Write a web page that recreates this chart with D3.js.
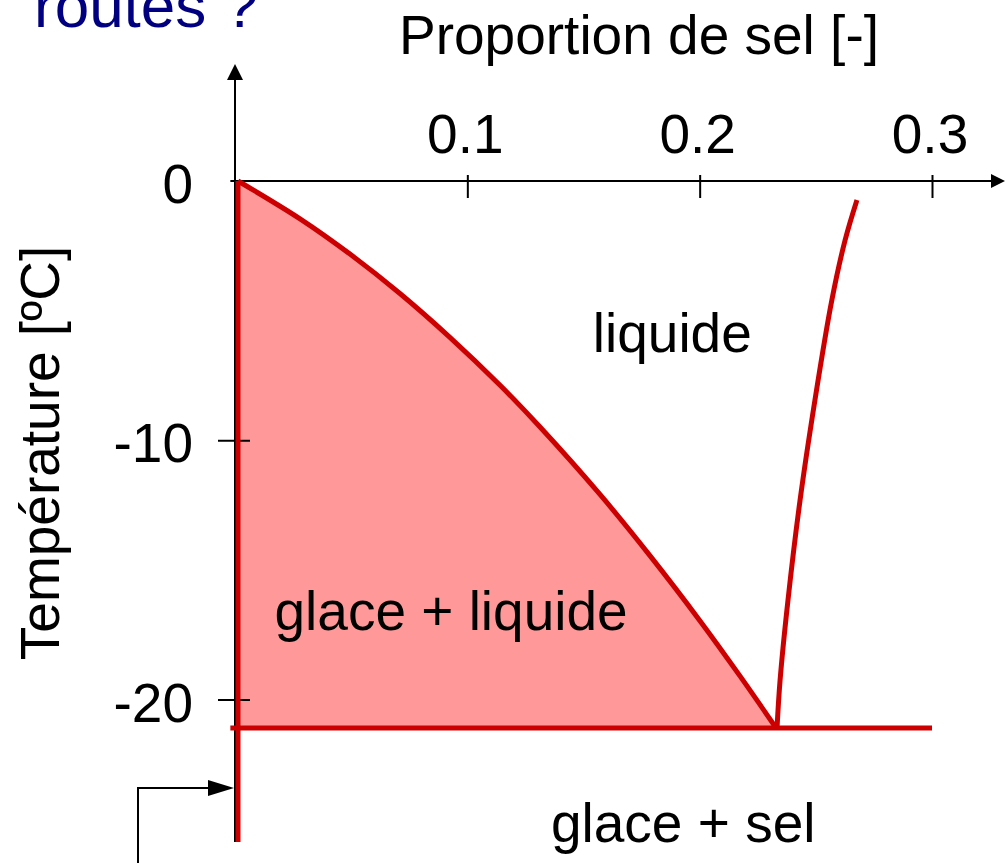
<!DOCTYPE html>
<html>
<head>
<meta charset="utf-8">
<script src="https://cdn.jsdelivr.net/npm/d3@7"></script>
<style>
  html, body { margin: 0; padding: 0; background: #fff; }
  svg { display: block; }
  text { font-family: "Liberation Sans", Arial, Helvetica, sans-serif; }
</style>
</head>
<body>
<svg id="chart" width="1005" height="863"></svg>
<script>
// Phase diagram of salt water (NaCl mass fraction vs temperature)

// Ice liquidus: freezing temperature of brine by salt fraction
const liquidusSalt = [0, 0.0267, 0.0482, 0.0697, 0.0912, 0.1128, 0.13, 0.1558, 0.1773, 0.1988, 0.2161, 0.2316];
const liquidusTemp = [0, -1.46, -2.82, -4.34, -6.03, -7.88, -9.49, -12.09, -14.45, -16.96, -19.10, -21.1];

// Salt solubility curve, from the eutectic upward
const solubSalt = [0.2333, 0.2346, 0.238, 0.2432, 0.2496, 0.2569, 0.2626, 0.2677];
const solubTemp = [-21.1, -19.27, -16.18, -12.32, -8.46, -4.59, -2.28, -0.73];

// Eutectic temperature and salt range of the horizontal line
const eutecticTemp = -21.1;
const eutecticSalt = [-0.002, 0.3];

// Pure water edge (salt fraction 0), temperature span
const pureWaterTemp = [0, -25.5];

// Axis ticks
const xTicks = [0.1, 0.2, 0.3];
const xTickLabels = ["0.1", "0.2", "0.3"];
const yTicks = [0, -10, -20];
const yTickLabels = ["0", "-10", "-20"];

// Region labels
const regionNames = ["liquide", "glace + liquide", "glace + sel"];
const regionSalt = [0.154, 0.017, 0.136];
const regionTemp = [-6.6, -17.3, -25.5];

const svg = d3.select("#chart");
const x = d3.scaleLinear().domain([0, 0.3]).range([235, 932]);
const y = d3.scaleLinear().domain([0, -20]).range([181, 699.5]);

const RED = "#cc0000";
const PINK = "#ff9999";
const FONT = 55;
const EDGE = 3; // half the boundary stroke, keeps the red edge inside the axis

const liquidus = liquidusSalt.map((s, i) => ({ s, t: liquidusTemp[i] }));
const solub = solubSalt.map((s, i) => ({ s, t: solubTemp[i] }));

const curve = d3.curveCatmullRom.alpha(0.5);

// Ice + liquid region
svg.append("path")
  .datum(liquidus)
  .attr("d", d3.area()
    .x(d => x(d.s) + EDGE)
    .y0(y(eutecticTemp))
    .y1(d => y(d.t))
    .curve(curve))
  .attr("fill", PINK);

// Axes (black)
const axisG = svg.append("g").attr("stroke", "#000").attr("stroke-width", 2);
const xAxisEnd = 1005;
const yAxisTop = 64;
axisG.append("line")
  .attr("x1", x(-0.002)).attr("x2", xAxisEnd - 12)
  .attr("y1", y(0)).attr("y2", y(0));
axisG.append("line")
  .attr("x1", x(0)).attr("x2", x(0))
  .attr("y1", y(pureWaterTemp[1])).attr("y2", yAxisTop + 14);

// Arrow heads
svg.append("path")
  .attr("d", `M${xAxisEnd},${y(0)} L${xAxisEnd - 14},${y(0) - 7} L${xAxisEnd - 14},${y(0) + 7} Z`)
  .attr("fill", "#000");
svg.append("path")
  .attr("d", `M${x(0)},${yAxisTop} L${x(0) - 8},${yAxisTop + 16} L${x(0) + 8},${yAxisTop + 16} Z`)
  .attr("fill", "#000");

// X ticks via axis generator, then restyled
const gx = svg.append("g")
  .attr("transform", `translate(0,${y(0)})`)
  .call(d3.axisBottom(x).tickValues(xTicks).tickFormat(""));
gx.select(".domain").remove();
gx.selectAll(".tick line").attr("y1", -6).attr("y2", 17).attr("stroke", "#000").attr("stroke-width", 2);

svg.selectAll(".xlab")
  .data(xTicks)
  .join("text")
  .attr("class", "xlab")
  .attr("x", d => x(d) - 2)
  .attr("y", y(0) - 28)
  .attr("text-anchor", "middle")
  .attr("font-size", FONT)
  .attr("fill", "#000")
  .text((d, i) => xTickLabels[i]);

// Y ticks
const gy = svg.append("g")
  .attr("transform", `translate(${x(0)},0)`)
  .call(d3.axisLeft(y).tickValues(yTicks.filter(v => v !== 0)).tickFormat(""));
gy.select(".domain").remove();
gy.selectAll(".tick line").attr("x1", -17).attr("x2", 15).attr("stroke", "#000").attr("stroke-width", 2);

svg.selectAll(".ylab")
  .data(yTicks)
  .join("text")
  .attr("class", "ylab")
  .attr("x", x(0) - 42)
  .attr("y", d => y(d) + 22)
  .attr("text-anchor", "end")
  .attr("font-size", FONT)
  .attr("fill", "#000")
  .text((d, i) => yTickLabels[i]);

// Red phase boundaries
const redG = svg.append("g").attr("fill", "none").attr("stroke", RED).attr("stroke-width", 5);
redG.append("line")
  .attr("x1", x(0) + EDGE).attr("x2", x(0) + EDGE)
  .attr("y1", y(pureWaterTemp[0])).attr("y2", y(pureWaterTemp[1]));
redG.append("line")
  .attr("x1", x(eutecticSalt[0])).attr("x2", x(eutecticSalt[1]))
  .attr("y1", y(eutecticTemp)).attr("y2", y(eutecticTemp));
redG.append("path")
  .datum(liquidus)
  .attr("d", d3.line().x(d => x(d.s) + EDGE).y(d => y(d.t)).curve(curve))
  .attr("stroke-linejoin", "round");
redG.append("path")
  .datum(solub)
  .attr("d", d3.line().x(d => x(d.s)).y(d => y(d.t)).curve(curve));

// Axis titles
svg.append("text")
  .attr("x", 639).attr("y", 54)
  .attr("text-anchor", "middle")
  .attr("font-size", FONT)
  .attr("fill", "#000")
  .text("Proportion de sel [-]");

svg.append("text")
  .attr("transform", `translate(59,453) rotate(-90)`)
  .attr("text-anchor", "middle")
  .attr("font-size", FONT)
  .attr("fill", "#000")
  .text("Température [ºC]");

// Region labels
svg.selectAll(".region")
  .data(regionNames)
  .join("text")
  .attr("class", "region")
  .attr("x", (d, i) => x(regionSalt[i]))
  .attr("y", (d, i) => y(regionTemp[i]))
  .attr("font-size", FONT)
  .attr("fill", "#000")
  .text(d => d);

// Heading fragment at the top edge
svg.append("text")
  .attr("x", 34).attr("y", 27)
  .attr("font-size", 62)
  .attr("fill", "#000080")
  .text("routes ?");

// Pointer arrow to the pure-water edge
const px = 138, py = 788;
svg.append("path")
  .attr("d", `M${px},${863} L${px},${py} L${x(0) - 26},${py}`)
  .attr("fill", "none").attr("stroke", "#000").attr("stroke-width", 2);
svg.append("path")
  .attr("d", `M${x(0) - 1},${py} L${x(0) - 27},${py - 8} L${x(0) - 27},${py + 8} Z`)
  .attr("fill", "#000");
</script>
</body>
</html>
